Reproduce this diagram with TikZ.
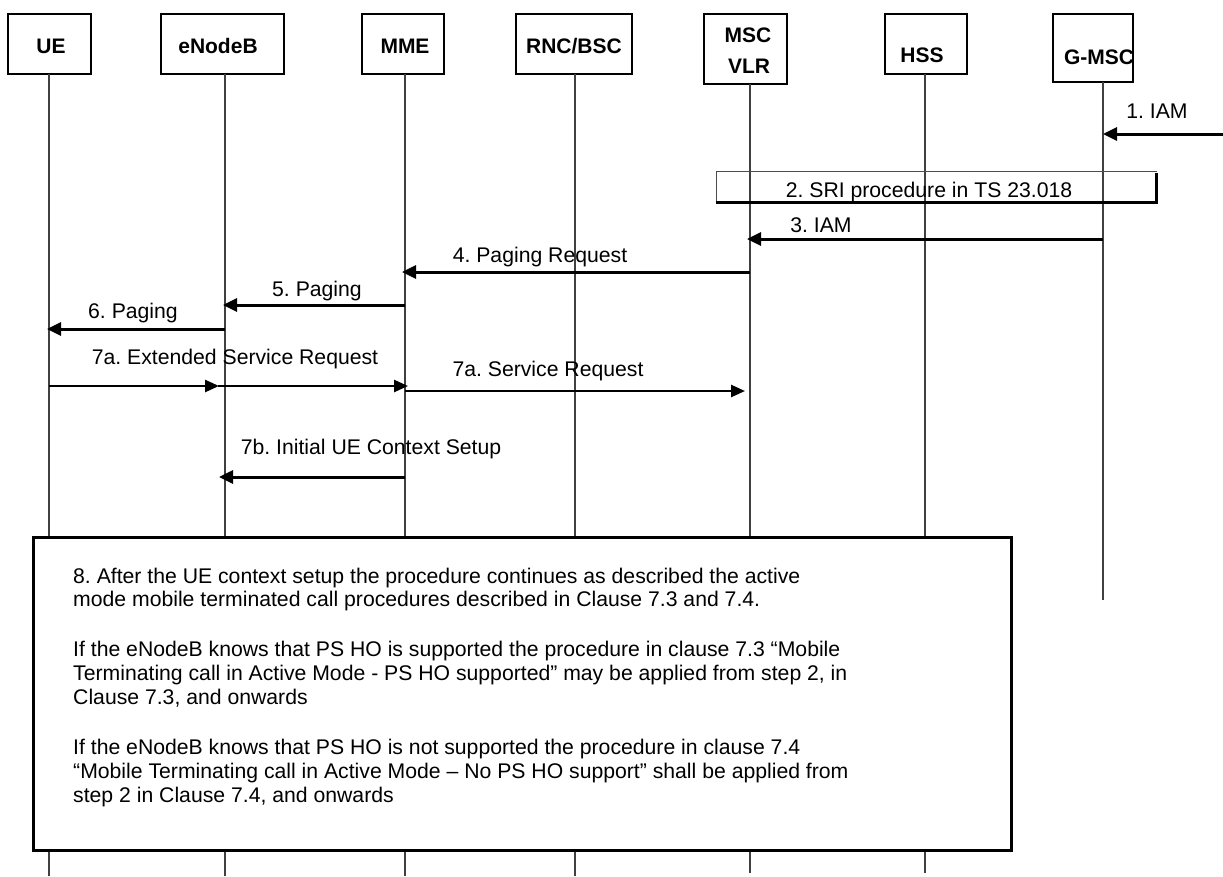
\documentclass[tikz,border=0pt]{standalone}
\usepackage{fontspec}
\setmainfont{Liberation Sans}
\usetikzlibrary{arrows.meta,calc}
\begin{document}
\frenchspacing
\begin{tikzpicture}[x=1pt,y=-1pt,
  hdr/.style={draw,line width=2pt,inner sep=0pt},
  hdrtxt/.style={font=\fontsize{21}{24}\selectfont\bfseries,inner sep=0pt,anchor=base},
  life/.style={line width=1.1pt,black!75},
  msg/.style={line width=3pt,-{Triangle[length=14pt,width=13pt]}},
  msgb/.style={line width=2.5pt,-{Triangle[length=14pt,width=12pt]}},
  lbl/.style={font=\fontsize{21.2}{24}\selectfont,inner sep=0pt,anchor=base},
  body/.style={font=\fontsize{21.2}{24}\selectfont,inner sep=0pt,anchor=base west},
]
\useasboundingbox (0,0) rectangle (1223,876);

% header boxes
\node[hdr,minimum width=83pt,minimum height=60pt] (bUE) at (49.5,44) {};
\node[hdr,minimum width=123pt,minimum height=60pt] (bENB) at (222.5,44) {};
\node[hdr,minimum width=82pt,minimum height=60pt] (bMME) at (403,44) {};
\node[hdr,minimum width=116pt,minimum height=60pt] (bRNC) at (574,44) {};
\node[hdr,minimum width=83pt,minimum height=70pt] (bMSC) at (745.5,49) {};
\node[hdr,minimum width=82pt,minimum height=60pt] (bHSS) at (926,44) {};
\node[hdr,minimum width=80pt,minimum height=68pt] (bGMSC) at (1093,48) {};

\node[hdrtxt] (tUE) at (51,53.5) {UE};
\node[hdrtxt] (tENB) at (218,53.5) {eNodeB};
\node[hdrtxt] (tMME) at (405,53.5) {MME};
\node[hdrtxt] (tRNC) at (574,53.5) {RNC/BSC};
\node[hdrtxt] (tMSC1) at (748,42) {MSC};
\node[hdrtxt] (tMSC2) at (749,73) {VLR};
\node[hdrtxt] (tHSS) at (922,62) {HSS};
\node[hdrtxt] (tGMSC) at (1099,64) {G-MSC};

% lifelines
\coordinate (ue) at (49,74);
\coordinate (enb) at (225,74);
\coordinate (mme) at (405,74);
\coordinate (rnc) at (575,74);
\coordinate (msc) at (750,84);
\coordinate (hss) at (925,74);
\coordinate (gmsc) at (1103,82);
\coordinate (ueE) at (49,876);
\coordinate (enbE) at (225,876);
\coordinate (mmeE) at (405,876);
\coordinate (rncE) at (575,876);
\coordinate (mscE) at (750,873);
\coordinate (hssE) at (925,873);
\coordinate (gmscE) at (1103,600);
\draw[life] (ue) -- (ueE);
\draw[life] (enb) -- (enbE);
\draw[life] (mme) -- (mmeE);
\draw[life] (rnc) -- (rncE);
\draw[life] (msc) -- (mscE);
\draw[life] (hss) -- (hssE);
\draw[life] (gmsc) -- (gmscE);

% 1. IAM
\coordinate (ext) at (1223,134);
\draw[msg] (ext) -- (gmsc |- ext);
\node[lbl] (l1) at (1157,118) {1. IAM};

% 2. SRI box
\coordinate (sriTL) at (716,171);
\coordinate (sriBR) at (1156,202);
\draw[line width=1pt,black!70] (sriTL |- sriBR) -- (sriTL) -- ($(sriBR |- sriTL)+(1,0)$);
\draw[line width=3pt] (sriTL |- sriBR) -- (sriBR) -- ($(sriBR |- sriTL)+(0,2)$);
\node[lbl] (l2) at (929,197) {2. SRI procedure in TS 23.018};

% 3. IAM
\draw[msg] (gmsc |- 0,239) -- ($(msc |- 0,239)+(-3,0)$);
\node[lbl] (l3) at (821,232.5) {3. IAM};

% 4. Paging Request
\draw[msg] (msc |- 0,272) -- ($(mme |- 0,272)+(-3,0)$);
\node[lbl] (l4) at (540,262) {4. Paging Request};

% 5. Paging
\draw[msg] (mme |- 0,305) -- ($(enb |- 0,305)+(-2,0)$);
\node[lbl] (l5) at (317,296.5) {5. Paging};

% 6. Paging
\draw[msg] (enb |- 0,329) -- ($(ue |- 0,329)+(-2,0)$);
\node[lbl] (l6) at (133,318) {6. Paging};

% 7a. Extended Service Request
\draw[msgb] (ue |- 0,386) -- ($(enb |- 0,386)+(-6,0)$);
\draw[msgb] ($(enb |- 0,386)+(-7,0)$) -- ($(mme |- 0,386)+(3,0)$);
\node[lbl] (l7a) at (235,364) {7a. Extended Service Request};

% 7a. Service Request
\draw[msgb] (mme |- 0,391) -- ($(msc |- 0,391)+(-5,0)$);
\node[lbl] (l7s) at (548,376) {7a. Service Request};

% 7b. Initial UE Context Setup
\draw[msg] (mme |- 0,477) -- ($(enb |- 0,477)+(-6,0)$);
\node[lbl] (l7b) at (371,454) {7b. Initial UE Context Setup};

% 8. note box
\node[draw,line width=3pt,fill=white,minimum width=978pt,minimum height=313pt,inner sep=0pt] (note) at (522,693.5) {};
\node[body] (n1) at (73,583) {8. After the UE context setup the procedure continues as described the active};
\node[body] (n2) at (73,606) {mode mobile terminated call procedures described in Clause 7.3 and 7.4.};
\node[body] (n3) at (73,656.5) {If the eNodeB knows that PS HO is supported the procedure in clause 7.3 “Mobile};
\node[body] (n4) at (73,680) {Terminating call in Active Mode - PS HO supported” may be applied from step 2, in};
\node[body] (n5) at (73,704) {Clause 7.3, and onwards};
\node[body] (n6) at (73,754) {If the eNodeB knows that PS HO is not supported the procedure in clause 7.4};
\node[body] (n7) at (73,778) {“Mobile Terminating call in Active Mode – No PS HO support” shall be applied from};
\node[body] (n8) at (73,802) {step 2 in Clause 7.4, and onwards};
\end{tikzpicture}
\end{document}
